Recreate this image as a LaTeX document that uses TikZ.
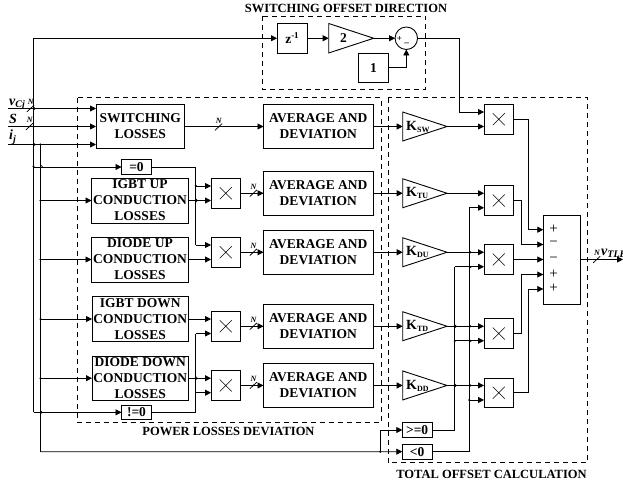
\documentclass[tikz,border=0pt]{standalone}
\usepackage{fontspec}
\setmainfont{Liberation Serif}
\usetikzlibrary{arrows.meta,calc}
\tikzset{
  wire/.style={line width=0.8pt,draw=black},
  arr/.style={wire,-{Triangle[length=6pt,width=6pt]}},
  blk/.style={draw=black,line width=0.9pt,inner sep=0pt,outer sep=0pt,align=center,font=\fontsize{13.5}{16}\selectfont\bfseries},
  dashbox/.style={draw=black,line width=0.8pt,dash pattern=on 5pt off 4pt},
  title/.style={inner sep=0pt,font=\fontsize{12.5}{13}\selectfont\bfseries},
  slash/.style={line width=0.8pt},
  nlab/.style={inner sep=0pt,font=\fontsize{8}{9}\selectfont\bfseries\itshape},
  siglab/.style={inner sep=0pt,anchor=base west,font=\fontsize{14}{16}\selectfont\bfseries\itshape},
  klab/.style={inner sep=0pt,anchor=west,font=\fontsize{14}{16}\selectfont\bfseries},
  sgn/.style={inner sep=0pt,font=\fontsize{15}{15}\selectfont},
}
\newcommand{\bx}[6]{\node[blk,minimum width={(#4-#2)*1pt},minimum height={(#5-#3)*1pt}] (#1) at ({(#2+#4)/2},{(#3+#5)/2}) {#6};}
\newcommand{\mlt}[3]{%
  \node[blk,minimum width=29.5pt,minimum height=29.5pt] (#1) at ({#2+14.75},{#3+14.75}) {};
  \draw[line width=0.6pt] ($(#1.center)+(-6,-6)$) -- ($(#1.center)+(6,6)$) ($(#1.center)+(-6,6)$) -- ($(#1.center)+(6,-6)$);
  \coordinate (#1a) at (#2,{#3+7.5});
  \coordinate (#1b) at (#2,{#3+22});
}
\newcommand{\tri}[3]{%
  \draw[line width=0.9pt] (402.7,{#2-14.5}) -- (447,#2) -- (402.7,{#2+14.5}) -- cycle;
  \coordinate (#1in) at (402.7,#2);
  \coordinate (#1out) at (447,#2);
  \node[klab] (#1lab) at (406,#2) {K\raisebox{-2pt}{\fontsize{8}{9}\selectfont #3}};
}
\newcommand{\hop}[2]{\draw[line width=0.6pt] (#1,{#2-1.6}) .. controls ({#1+2.4},{#2-1.6}) and ({#1+2.4},{#2+1.6}) .. (#1,{#2+1.6});}
\newcommand{\dotat}[2]{\fill (#1,#2) circle (1.1pt);}
\newcommand{\slashmark}[3]{%
  \draw[slash] ({#1-3.5},{#2+3.3}) -- ({#1+3.5},{#2-3.3});
  \node[nlab] (#3) at ({#1+0.3},{#2-6.5}) {N};
}
\begin{document}
\begin{tikzpicture}[x=1pt,y=-1pt]
\useasboundingbox (0,0) rectangle (623,487);
% dashed regions
\draw[dashbox] (262.5,16) rectangle (425.5,89.5);
\draw[dashbox] (77.5,97.5) rectangle (381,422.3);
\draw[dashbox] (388,97.5) rectangle (587.7,462.3);
% titles
\node[title] (t1) at (346,8) {SWITCHING OFFSET DIRECTION};
\node[title] (t2) at (228.5,431.7) {POWER LOSSES DEVIATION};
\node[title] (t3) at (491.5,474.7) {TOTAL OFFSET CALCULATION};
% top chain
\bx{z}{277}{23.5}{307}{53}{z\raisebox{5pt}{\fontsize{9}{10}\selectfont -1}}
\draw[line width=0.9pt] (328.7,23.5) -- (373.7,38.25) -- (328.7,53) -- cycle;
\coordinate (gin) at (328.7,38.25);
\coordinate (gout) at (373.7,38.25);
\node[inner sep=0pt,font=\fontsize{13.5}{16}\selectfont\bfseries] (glab) at (343.5,38) {2};
\node[draw=black,line width=0.9pt,circle,minimum size=22.5pt,inner sep=0pt,outer sep=0pt] (sc) at (406.3,38.25) {};
\node[inner sep=0pt,font=\fontsize{9}{10}\selectfont\bfseries] (scp) at (399.5,38.5) {+};
\node[inner sep=0pt,font=\fontsize{9}{10}\selectfont\bfseries] (scm) at (406.5,44) {–};
\bx{one}{358.7}{53}{388.3}{82.5}{1}
% left blocks
\bx{sl}{96}{104.5}{184.5}{148.5}{SWITCHING\\LOSSES}
\bx{eq}{121.5}{159.5}{151.5}{174.5}{=0}
\bx{iu}{91.5}{178}{188.5}{223}{IGBT UP\\CONDUCTION\\LOSSES}
\bx{du}{91.5}{237}{188.5}{282}{DIODE UP\\CONDUCTION\\LOSSES}
\bx{id}{92}{296.5}{188.5}{341.5}{IGBT DOWN\\CONDUCTION\\LOSSES}
\bx{dd}{92}{356}{188.5}{400.4}{DIODE DOWN\\CONDUCTION\\LOSSES}
\bx{neq}{121.5}{405}{151.5}{419.7}{!=0}
% left multipliers
\mlt{ma}{211}{178.5}
\mlt{mb}{211}{237.5}
\mlt{mc}{211}{311.5}
\mlt{md}{211}{370.7}
% average blocks
\bx{av1}{263.5}{104.5}{373}{148.5}{AVERAGE AND\\DEVIATION}
\bx{av2}{263.5}{171.25}{373}{215.25}{AVERAGE AND\\DEVIATION}
\bx{av3}{263.5}{230.25}{373}{274.25}{AVERAGE AND\\DEVIATION}
\bx{av4}{263.5}{304.25}{373}{348.25}{AVERAGE AND\\DEVIATION}
\bx{av5}{263.5}{363.45}{373}{407.45}{AVERAGE AND\\DEVIATION}
% gains
\tri{ksw}{126.5}{SW}
\tri{ktu}{193.25}{TU}
\tri{kdu}{252.25}{DU}
\tri{ktd}{326.25}{TD}
\tri{kdd}{385.45}{DD}
% right multipliers
\mlt{ra}{484}{104.5}
\mlt{rb}{484}{185.75}
\mlt{rc}{484}{244.75}
\mlt{rd}{484}{318.75}
\mlt{re}{484}{377.95}
% summation
\bx{sum}{543.3}{215}{580.3}{304}{}
\coordinate (sa) at (543.3,229.7);
\coordinate (sb) at (543.3,244.5);
\coordinate (sc3) at (543.3,259.5);
\coordinate (sd) at (543.3,274.5);
\coordinate (se) at (543.3,289);
\node[sgn] (p1) at (553.5,229.5) {+};
\node[sgn] (p2) at (553.5,244) {−};
\node[sgn] (p3) at (553.5,259.5) {−};
\node[sgn] (p4) at (553.5,274) {+};
\node[sgn] (p5) at (553.5,288.5) {+};
% comparators
\bx{ge}{402.3}{422.7}{432}{437.3}{>=0}
\bx{lt}{402.3}{444.3}{432}{459}{<0}
% named points
\coordinate (busA) at (33.5,0);
\coordinate (busB) at (40.5,0);
\coordinate (busC) at (195.7,0);
\coordinate (busD) at (380.3,0);
\coordinate (busE) at (454.7,0);
\coordinate (busF) at (469.3,0);
\coordinate (busG) at (459.3,0);
\coordinate (busH) at (521,0);
\coordinate (busI) at (528.3,0);
\coordinate (inv) at (8,108.5);
\coordinate (ins) at (8,126.5);
\coordinate (ini) at (8,144.5);
\coordinate (sla) at (96,108.5);
\coordinate (slb) at (96,126.5);
\coordinate (slc) at (96,144.5);
% inputs
\draw[arr] (inv) -- (sla);
\draw[arr] (ins) -- (slb);
\draw[arr] (ini) -- (slc);
\draw[wire] (busA |- neq.west) -- (busA |- z.west);
\draw[arr] (busA |- z.west) -- (z.west);
\draw[wire] (busB |- ini) -- (busB |- 0,451.7);
\draw[arr] (busB |- 0,451.7) -- (lt.west);
\draw[arr] (busA |- eq.west) -- (eq.west);
\draw[arr] (busA |- neq.west) -- (neq.west);
\draw[arr] (busB |- iu.west) -- (iu.west);
\draw[arr] (busB |- du.west) -- (du.west);
\draw[arr] (busB |- id.west) -- (id.west);
\draw[arr] (busB |- dd.west) -- (dd.west);
\draw[wire] (busD |- lt.west) -- (busD |- ge.west);
\draw[arr] (busD |- ge.west) -- (ge.west);
% enable lines
\draw[wire] (eq.east) -- (busC |- eq.east) -- (busC |- mba);
\draw[arr] (busC |- mba) -- (mba);
\draw[arr] (busC |- maa) -- (maa);
\draw[wire] (neq.east) -- (busC |- neq.east) -- (busC |- mcb);
\draw[arr] (busC |- mcb) -- (mcb);
\draw[arr] (busC |- mdb) -- (mdb);
\draw[arr] (iu.east) -- (mab);
\draw[arr] (du.east) -- (mbb);
\draw[arr] (id.east) -- (mca);
\draw[arr] (dd.east) -- (mda);
% to averages
\draw[arr] (sl.east) -- (av1.west);
\draw[arr] (ma.east) -- (av2.west);
\draw[arr] (mb.east) -- (av3.west);
\draw[arr] (mc.east) -- (av4.west);
\draw[arr] (md.east) -- (av5.west);
% to gains
\draw[arr] (av1.east) -- (kswin);
\draw[arr] (av2.east) -- (ktuin);
\draw[arr] (av3.east) -- (kduin);
\draw[arr] (av4.east) -- (ktdin);
\draw[arr] (av5.east) -- (kddin);
\draw[arr] (kswout) -- (rab);
\draw[arr] (ktuout) -- (rba);
\draw[arr] (kduout) -- (rca);
\draw[arr] (ktdout) -- (rda);
\draw[arr] (kddout) -- (rea);
% sign buses
\draw[wire] (ge.east) -- (busE |- ge.east) -- (busE |- rcb);
\draw[arr] (busE |- rcb) -- (rcb);
\draw[arr] (busE |- rdb) -- (rdb);
\draw[wire] (lt.east) -- (busF |- lt.east) -- (busF |- rbb);
\draw[arr] (busF |- rbb) -- (rbb);
\draw[arr] (busF |- reb) -- (reb);
% top chain wiring
\draw[arr] (z.east) -- (gin);
\draw[arr] (gout) -- (sc.west);
\draw[wire] (one.east) -- (sc.south |- one.east);
\draw[arr] (sc.south |- one.east) -- (sc.south);
\draw[wire] (sc.east) -- (busG |- sc.east) -- (busG |- raa);
\draw[arr] (busG |- raa) -- (raa);
% to summation
\draw[wire] (ra.east) -- (busI |- ra.east) -- (busI |- sa);
\draw[arr] (busI |- sa) -- (sa);
\draw[wire] (rb.east) -- (busH |- rb.east) -- (busH |- sb);
\draw[arr] (busH |- sb) -- (sb);
\draw[arr] (rc.east) -- (sc3);
\draw[wire] (rd.east) -- (busH |- rd.east) -- (busH |- sd);
\draw[arr] (busH |- sd) -- (sd);
\draw[wire] (re.east) -- (busI |- re.east) -- (busI |- se);
\draw[arr] (busI |- se) -- (se);
\coordinate (outv) at (623,259.5);
\draw[arr] (sum.east) -- (outv);
% junctions and hops
\dotat{33.5}{126.5}\dotat{40.5}{144.5}\dotat{33.5}{166.5}\dotat{40.5}{200.5}\dotat{40.5}{259.5}\dotat{40.5}{319}\dotat{40.5}{378.2}
\dotat{195.7}{185.75}\dotat{380.3}{451.7}\dotat{454.7}{341}\dotat{469.3}{400}
\hop{33.5}{108.5}\hop{33.5}{144.5}\hop{40.5}{166.5}\hop{40.5}{412.35}
\hop{195.7}{200.5}\hop{195.7}{378.2}
\hop{454.7}{326.25}\hop{469.3}{326.25}\hop{469.3}{341}\hop{454.7}{385.45}\hop{469.3}{385.45}\hop{469.3}{252.25}\hop{469.3}{267}
% bus markers
\slashmark{30.5}{108.5}{n1}
\slashmark{29.5}{126.5}{n2}
\slashmark{218.5}{127}{n3}
\slashmark{253.3}{193.25}{n4}
\slashmark{253.3}{252.25}{n5}
\slashmark{253.3}{326.25}{n6}
\slashmark{253.3}{385.45}{n7}
\slashmark{596.7}{259.5}{n8}
% signal labels
\node[siglab] (lv) at (9,105) {v\raisebox{-2.5pt}{\fontsize{10}{11}\selectfont Cj}};
\node[siglab] (ls) at (9,123) {S};
\node[siglab] (li) at (9,139.5) {i\raisebox{-2.5pt}{\fontsize{10}{11}\selectfont j}};
\node[siglab] (lo) at (601,255) {v\raisebox{-2.5pt}{\fontsize{10}{11}\selectfont TLE}};
\end{tikzpicture}
\end{document}
